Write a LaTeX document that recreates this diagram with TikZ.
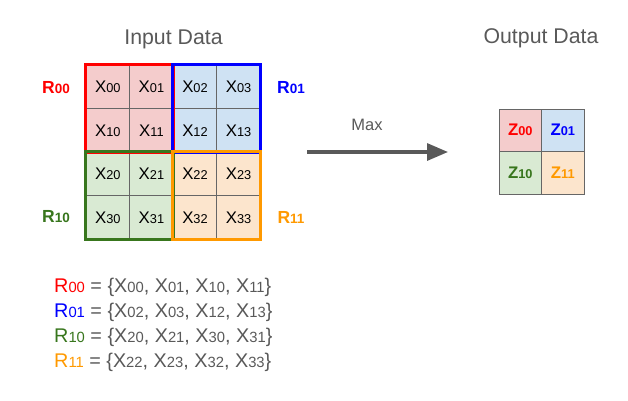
\documentclass[tikz,border=0pt]{standalone}
\usepackage{fontspec}
\setmainfont{Liberation Sans}
\usetikzlibrary{arrows.meta}
\definecolor{txtgray}{HTML}{595959}
\definecolor{gridgray}{HTML}{666666}
\definecolor{rred}{HTML}{FF0000}
\definecolor{rblue}{HTML}{0000FF}
\definecolor{rgreen}{HTML}{38761D}
\definecolor{rorange}{HTML}{FF9900}
\definecolor{fred}{HTML}{F4CCCC}
\definecolor{fblue}{HTML}{CFE2F3}
\definecolor{fgreen}{HTML}{D9EAD3}
\definecolor{forange}{HTML}{FCE5CD}
\newcommand\sbx[1]{{\fontsize{12.8}{13}\selectfont #1}}
\newcommand\sbr[1]{{\fontsize{13.5}{14}\selectfont #1}}
\newcommand\sbe[1]{{\fontsize{14.8}{15}\selectfont #1}}
\tikzset{
  cell/.style={draw=gridgray, line width=0.8pt, minimum size=43.6pt, inner sep=0pt,
    font=\fontsize{16.8}{18}\selectfont, text=black},
  zcell/.style={draw=gridgray, line width=0.9pt, minimum size=42.5pt, inner sep=0pt,
    font=\fontsize{16.8}{18}\selectfont\bfseries},
  region/.style={line width=3pt},
  rlabel/.style={font=\fontsize{17.5}{18}\selectfont\bfseries, inner sep=0pt},
  title/.style={font=\fontsize{21.3}{22}\selectfont, text=txtgray, inner sep=0pt},
  eq/.style={font=\fontsize{19.8}{21}\selectfont, text=txtgray, inner sep=0pt, anchor=base west},
}
\begin{document}
\begin{tikzpicture}[x=1pt,y=-1pt]
\useasboundingbox (0,0) rectangle (628,400);
% titles
\node[title, anchor=base] (tin) at (173.5,44) {Input Data};
\node[title, anchor=base] (tout) at (541,43.5) {Output Data};
% input grid
\def\cs{43.6}
\foreach \r/\c/\f in {0/0/fred,0/1/fred,0/2/fblue,0/3/fblue,
                      1/0/fred,1/1/fred,1/2/fblue,1/3/fblue,
                      2/0/fgreen,2/1/fgreen,2/2/forange,2/3/forange,
                      3/0/fgreen,3/1/fgreen,3/2/forange,3/3/forange}{
  \node[cell, fill=\f] (x\r\c) at ({86+\cs*(\c+0.5)},{65+\cs*(\r+0.5)}) {X\sbx{\r\c}};
}
\draw[region, rred] (x00.north west) rectangle (x11.south east);
\draw[region, rblue] (x02.north west) rectangle (x13.south east);
\draw[region, rgreen] (x20.north west) rectangle (x31.south east);
\draw[region, rorange] (x22.north west) rectangle (x33.south east);
% region labels
\node[rlabel, text=rred] (r00) at (56,88) {R\sbr{00}};
\node[rlabel, text=rblue] (r01) at (291,88) {R\sbr{01}};
\node[rlabel, text=rgreen] (r10) at (56,217) {R\sbr{10}};
\node[rlabel, text=rorange] (r11) at (291,217) {R\sbr{11}};
% arrow
\coordinate (as) at (307,152);
\coordinate (ae) at (448,152);
\draw[txtgray, line width=3.2pt, -{Triangle[length=21pt,width=17pt]}] (as) -- (ae);
\node[font=\fontsize{16.5}{18}\selectfont, text=txtgray, anchor=base] (max) at (367,130.5) {Max};
% output grid
\node[zcell, fill=fred, text=rred] (z00) at (520.25,130.25) {Z\sbx{00}};
\node[zcell, fill=fblue, text=rblue] (z01) at (562.75,130.25) {Z\sbx{01}};
\node[zcell, fill=fgreen, text=rgreen] (z10) at (520.25,172.75) {Z\sbx{10}};
\node[zcell, fill=forange, text=rorange] (z11) at (562.75,172.75) {Z\sbx{11}};
% equations
\node[eq] (e1) at (54,292) {\textcolor{rred}{R\sbe{00}} = \{X\sbe{00}, X\sbe{01}, X\sbe{10}, X\sbe{11}\}};
\node[eq] (e2) at (54,317) {\textcolor{rblue}{R\sbe{01}} = \{X\sbe{02}, X\sbe{03}, X\sbe{12}, X\sbe{13}\}};
\node[eq] (e3) at (54,342) {\textcolor{rgreen}{R\sbe{10}} = \{X\sbe{20}, X\sbe{21}, X\sbe{30}, X\sbe{31}\}};
\node[eq] (e4) at (54,367) {\textcolor{rorange}{R\sbe{11}} = \{X\sbe{22}, X\sbe{23}, X\sbe{32}, X\sbe{33}\}};
\end{tikzpicture}
\end{document}
